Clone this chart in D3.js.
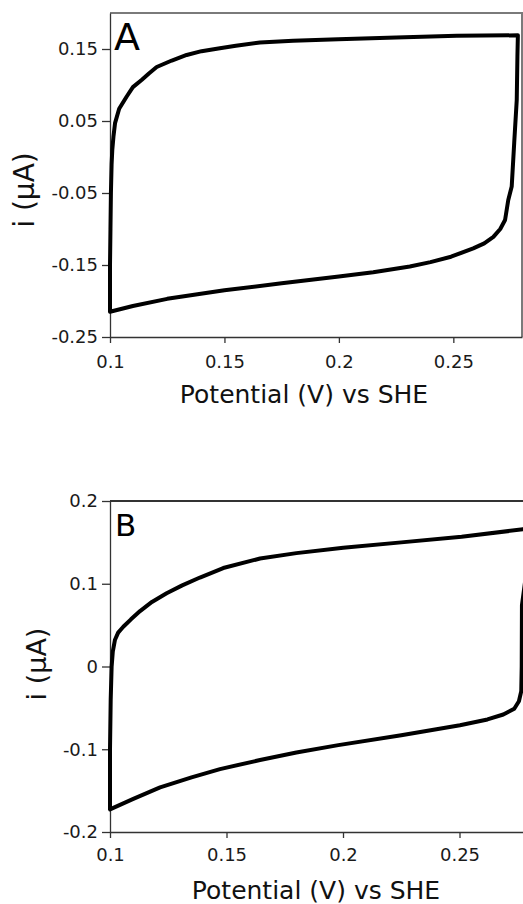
<!DOCTYPE html>
<html>
<head>
<meta charset="utf-8">
<script src="https://cdn.jsdelivr.net/npm/d3@7"></script>
<style>
  body { margin: 0; background: #fff; }
  svg { display: block; font-family: "DejaVu Sans", sans-serif; }
</style>
</head>
<body>
<div id="chart-area"></div>
<script>
/*
*    cv panels A and B
*/

// ---- data ----
// panel A: one closed voltammogram, out along the top, back along the bottom
const aPotential = [0.1, 0.1, 0.1002, 0.1004, 0.1007, 0.101, 0.1015, 0.1022, 0.104, 0.1073,
  0.110, 0.1138, 0.117, 0.1204, 0.127, 0.1335, 0.14, 0.148, 0.155, 0.1655, 0.18, 0.1997,
  0.225, 0.2515, 0.2782,
  0.278, 0.2777, 0.2766, 0.2755, 0.274, 0.2726, 0.2705, 0.2675, 0.2635, 0.2587, 0.249,
  0.24, 0.231, 0.215, 0.2, 0.175, 0.15, 0.125, 0.11, 0.1];
const aCurrent = [-0.215, -0.15, -0.1, -0.05, -0.01, 0.01, 0.028, 0.047, 0.067, 0.084,
  0.097, 0.107, 0.116, 0.125, 0.134, 0.1417, 0.147, 0.151, 0.1545, 0.159, 0.1615, 0.1635,
  0.166, 0.1685, 0.169,
  0.14, 0.079, 0.02, -0.041, -0.0597, -0.0875, -0.1, -0.111, -0.12, -0.127, -0.1385,
  -0.146, -0.152, -0.16, -0.166, -0.1755, -0.185, -0.197, -0.207, -0.215];

// panel B
const bPotential = [0.1, 0.1, 0.1003, 0.1007, 0.1012, 0.1021, 0.1035, 0.1057, 0.109, 0.1129,
  0.118, 0.1243, 0.131, 0.1386, 0.1486, 0.1644, 0.18, 0.2001, 0.225, 0.2509, 0.2773, 0.2785,
  0.2785, 0.2768, 0.2767, 0.2765, 0.2755, 0.2735, 0.2688, 0.262, 0.2502, 0.225, 0.198,
  0.18, 0.1644, 0.1472, 0.135, 0.1215, 0.11, 0.1];
const bCurrent = [-0.1726, -0.1, -0.04, 0.0, 0.018, 0.032, 0.041, 0.048, 0.057, 0.067,
  0.078, 0.0885, 0.098, 0.1075, 0.119, 0.1305, 0.137, 0.1435, 0.150, 0.1569, 0.1658, 0.167,
  0.11, 0.074, 0.0, -0.03, -0.042, -0.051, -0.058, -0.064, -0.071, -0.083, -0.095,
  -0.104, -0.113, -0.124, -0.134, -0.146, -0.16, -0.1726];

const aYTicks = [-0.25, -0.15, -0.05, 0.05, 0.15];
const bYTicks = [-0.2, -0.1, 0, 0.1, 0.2];
const xTicks = [0.1, 0.15, 0.2, 0.25];

const width = 523;
const height = 904;

const svg = d3.select("#chart-area")
  .append("svg")
    .attr("width", width)
    .attr("height", height);

function drawPanel(p) {
    const xScale = d3.scaleLinear()
      .domain([0.1, 0.28])
      .range([p.left, p.right]);

    const yScale = d3.scaleLinear()
      .domain(p.yDomain)
      .range([p.bottom, p.top]);

    const g = svg.append("g");

    // frame on top and right
    g.append("path")
        .attr("d", `M${p.left},${p.top}H${p.right}V${p.bottom}`)
        .attr("fill", "none")
        .attr("stroke", p.frameColor)
        .attr("stroke-width", 2);

    g.append("g")
        .attr("class", "axis y-axis")
        .attr("transform", `translate(${p.left},0)`)
        .call(d3.axisLeft(yScale)
            .tickValues(p.yTicks)
            .tickSize(8)
            .tickSizeOuter(0)
            .tickPadding(4)
            .tickFormat(d => String(d)));

    g.append("g")
        .attr("class", "axis x-axis")
        .attr("transform", `translate(0,${p.bottom})`)
        .call(d3.axisBottom(xScale)
            .tickValues(xTicks)
            .tickSize(6)
            .tickSizeOuter(0)
            .tickPadding(p.xPad)
            .tickFormat(d => String(d)));

    g.selectAll(".axis path, .axis line")
        .attr("stroke", "#333")
        .attr("stroke-width", 1.3);
    g.selectAll(".axis text")
        .attr("fill", "#1a1a1a")
        .style("font-size", "18px")
        .style("font-family", "DejaVu Sans, sans-serif");

    const line = d3.line()
        .x(d => xScale(d[0]))
        .y(d => yScale(d[1]));

    const pts = p.potential.map((v, i) => [v, p.current[i]]);

    g.append("path")
        .datum(pts)
        .attr("d", line)
        .attr("fill", "none")
        .attr("stroke", "#000")
        .attr("stroke-width", 4)
        .attr("stroke-linejoin", "round")
        .attr("stroke-linecap", "round");

    // panel letter
    g.append("text")
        .attr("x", p.letterX)
        .attr("y", p.letterY)
        .style("font-size", p.letterSize + "px")
        .attr("fill", "#000")
        .text(p.letter);

    // axis titles
    g.append("text")
        .attr("x", p.xTitleX)
        .attr("y", p.xTitleY)
        .attr("text-anchor", "middle")
        .style("font-size", "25px")
        .attr("fill", "#111")
        .text("Potential (V) vs SHE");

    g.append("text")
        .attr("transform", `translate(${p.yTitleX},${p.yTitleY}) rotate(-90)`)
        .attr("text-anchor", "middle")
        .style("font-size", p.yTitleSize + "px")
        .attr("fill", "#111")
        .text("i (\u00b5A)");
}

drawPanel({
    left: 110, right: 522, top: 13, bottom: 337,
    yDomain: [-0.25, 0.2], yTicks: aYTicks, xPad: 12,
    frameColor: "#7a7a7a",
    potential: aPotential, current: aCurrent,
    letter: "A", letterX: 114, letterY: 50, letterSize: 38,
    xTitleX: 304, xTitleY: 403,
    yTitleX: 34, yTitleY: 190, yTitleSize: 28
});

drawPanel({
    left: 110, right: 529.4, top: 501, bottom: 832,
    yDomain: [-0.2, 0.2], yTicks: bYTicks, xPad: 10,
    frameColor: "#333",
    potential: bPotential, current: bCurrent,
    letter: "B", letterX: 115, letterY: 536, letterSize: 31,
    xTitleX: 316, xTitleY: 899,
    yTitleX: 46, yTitleY: 664, yTitleSize: 27
});
</script>
</body>
</html>
